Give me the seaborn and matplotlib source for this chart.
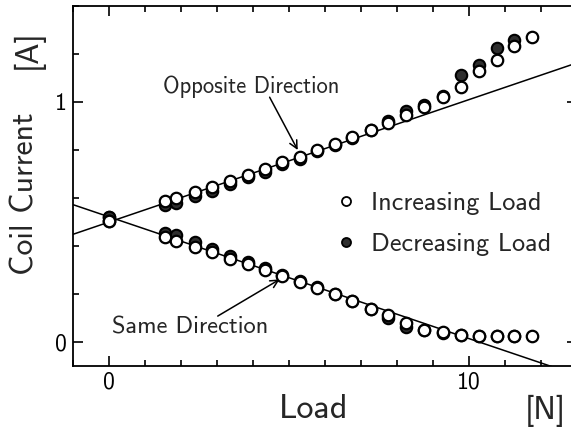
import numpy as np
import pandas as pd
import matplotlib
matplotlib.use("Agg")
import matplotlib.pyplot as plt
import seaborn as sns
from matplotlib.lines import Line2D
from matplotlib.ticker import MultipleLocator, FixedLocator

# ---- data ----
load = [0, 1.57, 1.88, 2.39, 2.88, 3.38, 3.87, 4.35, 4.81, 5.30, 5.79, 6.28,
        6.77, 7.27, 7.76, 8.25, 8.76, 9.27, 9.77, 10.28, 10.77, 11.26, 11.75]

opp_increasing = [0.505, 0.586, 0.598, 0.624, 0.644, 0.672, 0.697, 0.721, 0.748, 0.771,
                  0.798, 0.824, 0.854, 0.884, 0.912, 0.946, 0.980, 1.022, 1.063, 1.130,
                  1.177, 1.232, 1.271]
opp_decreasing = [0.520, 0.572, 0.581, 0.608, 0.631, 0.660, 0.687, 0.710, 0.741, 0.761,
                  0.795, 0.822, 0.852, 0.882, 0.921, 0.964, 0.988, 1.025, 1.112, 1.156,
                  1.223, 1.257, np.nan]

same_increasing = [0.505, 0.437, 0.420, 0.395, 0.375, 0.347, 0.324, 0.300, 0.275, 0.252,
                   0.227, 0.199, 0.169, 0.137, 0.112, 0.078, 0.051, 0.040, 0.030, 0.026,
                   0.026, 0.026, 0.026]
same_decreasing = [0.520, 0.455, 0.444, 0.415, 0.386, 0.357, 0.332, 0.309, 0.280, 0.256,
                   0.230, 0.200, 0.170, 0.138, 0.102, 0.063, 0.048, 0.038, 0.029, 0.025,
                   0.025, 0.025, np.nan]

fit_x = [-1, 13]
fit_opposite = [0.448, 1.163]
fit_same = [0.573, -0.138]

x_major = [0, 10]
y_major = [0, 1]

# ---- style ----
sns.set_style("ticks")
plt.rcParams['font.family'] = ['cmss10', 'DejaVu Sans']
plt.rcParams['axes.formatter.use_mathtext'] = True
plt.rcParams['mathtext.fontset'] = 'cm'

W, H = 571, 428
fig = plt.figure(figsize=(W / 100, H / 100), dpi=100)
left, right, top, bottom = 72.5, 577, 6, 366
ax = fig.add_axes([left / W, 1 - bottom / H, (right - left) / W, (bottom - top) / H])

# fit lines
lines_df = pd.DataFrame({"x": fit_x * 2,
                         "y": fit_opposite + fit_same,
                         "which": ["opp"] * 2 + ["same"] * 2})
for key, sub in lines_df.groupby("which"):
    sns.lineplot(data=sub, x="x", y="y", ax=ax, color="black", linewidth=1.1,
                 legend=False, estimator=None, sort=False, zorder=2)

# points: decreasing (filled) first, then increasing (open) on top
dec_df = pd.DataFrame({"x": load * 2, "y": opp_decreasing + same_decreasing})
inc_df = pd.DataFrame({"x": load * 2, "y": opp_increasing + same_increasing})
sns.scatterplot(data=dec_df, x="x", y="y", ax=ax, s=68, color="#2e2e2e",
                edgecolor="black", linewidth=1.5, zorder=3, legend=False)
sns.scatterplot(data=inc_df, x="x", y="y", ax=ax, s=68, color="white",
                edgecolor="black", linewidth=1.6, zorder=4, legend=False)

ax.set_xlim(-1, 13)
ax.set_ylim(-0.1, 1.4)
ax.xaxis.set_major_locator(FixedLocator(x_major))
ax.yaxis.set_major_locator(FixedLocator(y_major))
ax.xaxis.set_minor_locator(MultipleLocator(1))
ax.yaxis.set_minor_locator(MultipleLocator(0.2))
ax.set_xticklabels([str(v) for v in x_major])
ax.set_yticklabels([str(v) for v in y_major])
ax.tick_params(which="both", direction="in", top=True, right=True,
               width=1.2, colors="black", labelsize=17)
ax.tick_params(which="major", length=7.5, pad=4)
ax.tick_params(which="minor", length=4)
for s in ax.spines.values():
    s.set_linewidth(1.3)
    s.set_color("black")
ax.set_xlabel("")
ax.set_ylabel("")

# axis labels
fig.text(25 / W, 1 - 194 / H, "Coil Current", rotation=90, ha="center", va="center", fontsize=23)
fig.text(28 / W, 1 - 49 / H, "[A]", rotation=90, ha="center", va="center", fontsize=23)
fig.text(314 / W, 1 - 410 / H, "Load", ha="center", va="center", fontsize=24.5)
fig.text(545 / W, 1 - 411 / H, "[N]", ha="center", va="center", fontsize=23)

# annotations
ax.text(3.96, 1.065, "Opposite Direction", ha="center", va="center", fontsize=16.3)
ax.annotate("", xy=(5.25, 0.80), xytext=(4.47, 1.02),
            arrowprops=dict(arrowstyle="->", color="black", lw=1.1,
                            shrinkA=0, shrinkB=0, mutation_scale=14))
ax.text(2.26, 0.062, "Same Direction", ha="center", va="center", fontsize=17.6)
ax.annotate("", xy=(4.75, 0.261), xytext=(3.03, 0.108),
            arrowprops=dict(arrowstyle="->", color="black", lw=1.1,
                            shrinkA=0, shrinkB=0, mutation_scale=14))

# legend
handles = [
    Line2D([], [], marker="o", linestyle="none", markersize=6.5,
           markerfacecolor="white", markeredgecolor="black", markeredgewidth=1.3,
           label="Increasing Load"),
    Line2D([], [], marker="o", linestyle="none", markersize=6.5,
           markerfacecolor="#2e2e2e", markeredgecolor="black", markeredgewidth=1.3,
           label="Decreasing Load"),
]
fig.legend(handles=handles, loc="upper left", bbox_to_anchor=(333 / W, 1 - 192 / H),
           frameon=False, fontsize=18.8, handletextpad=0.45, handlelength=1.0,
           labelspacing=0.68, borderpad=0, borderaxespad=0)

fig.savefig("out.png", dpi=100)
